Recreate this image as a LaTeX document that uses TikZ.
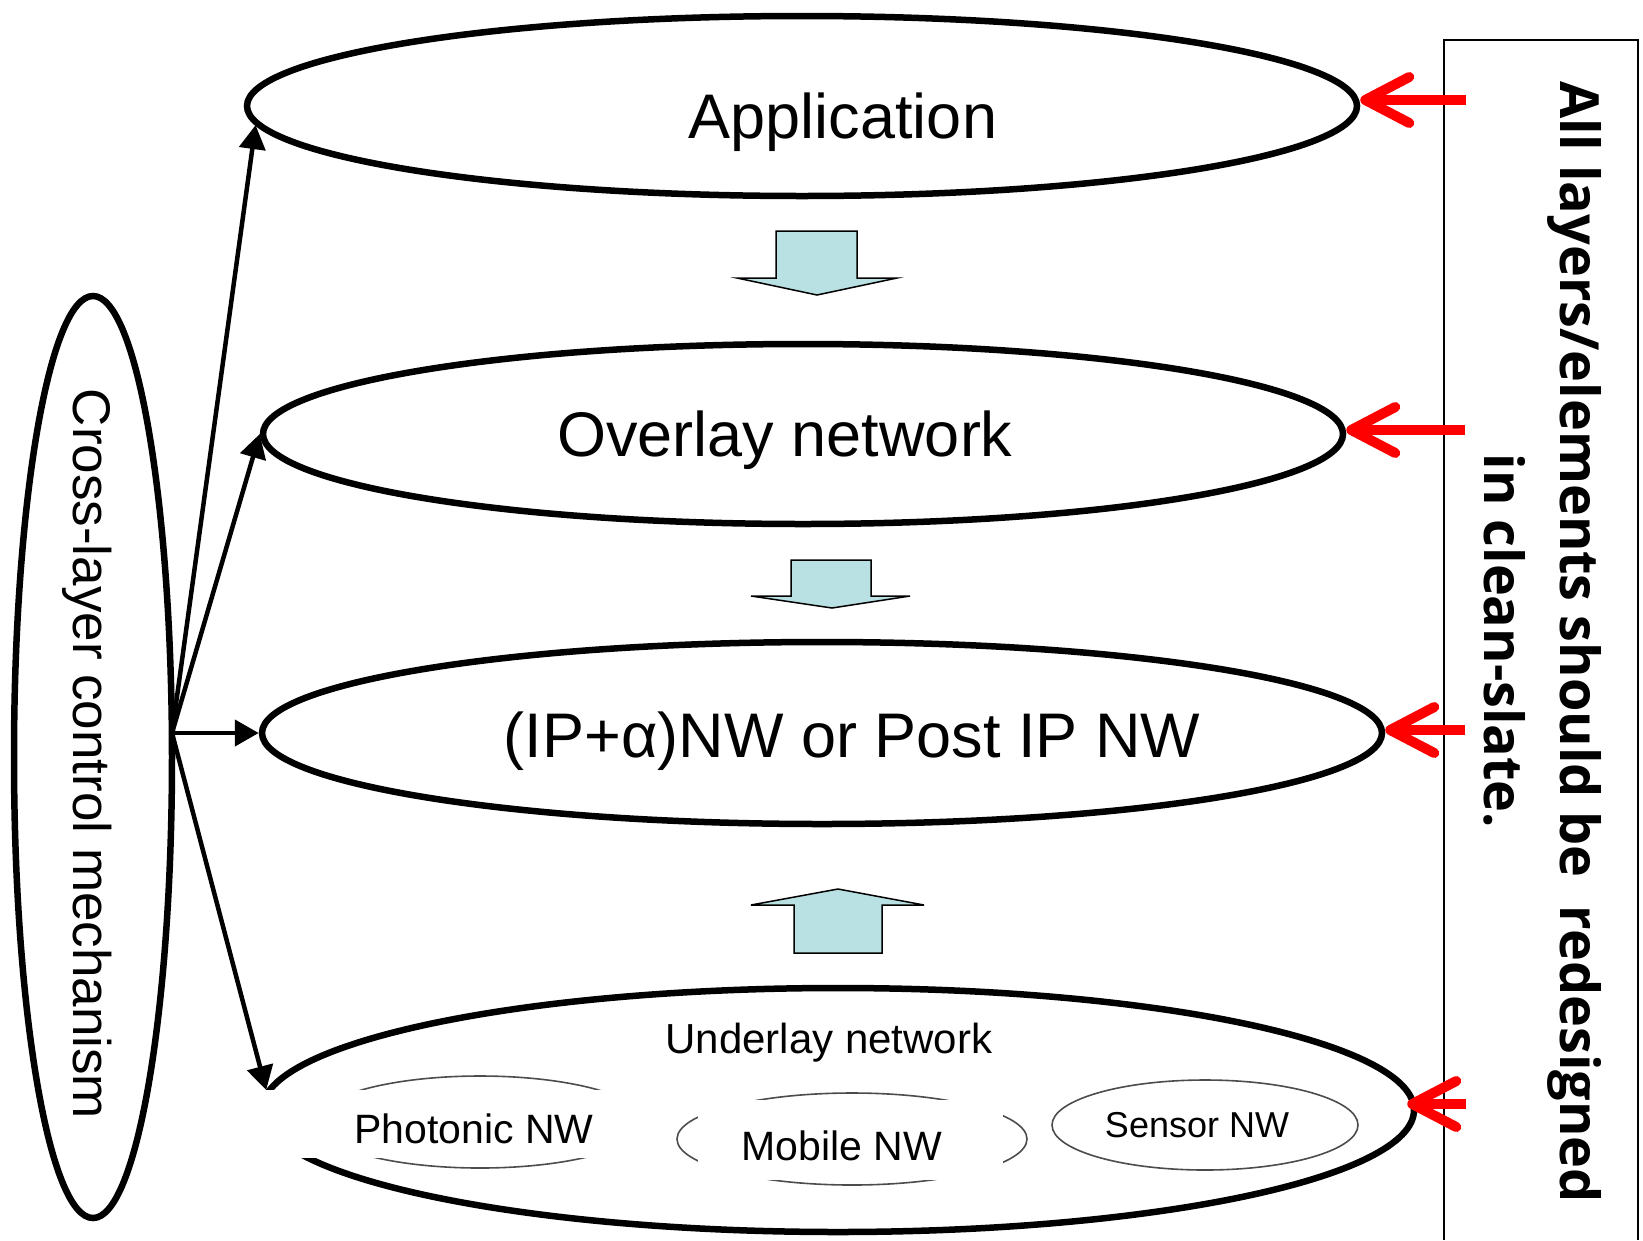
\documentclass[tikz,border=0pt]{standalone}
\usepackage{fontspec}
\setmainfont{Liberation Sans}
\newfontfamily\notefont{Open Sans}
\usetikzlibrary{positioning,shapes.geometric,arrows.meta}
\definecolor{flowblue}{RGB}{185,224,227}

\begin{document}
\begin{tikzpicture}[x=1pt, y=-1pt,
layernode/.style={ellipse, draw=black, line width=6.5pt, inner sep=0pt},
subnode/.style={ellipse, draw=black!70, line width=1.6pt, inner sep=0pt},
bigtext/.style={font=\fontsize{63}{70}\selectfont, anchor=base},
smalltext/.style={font=\fontsize{41}{46}\selectfont, anchor=base},
notetext/.style={font=\notefont\bfseries\fontsize{54}{60}\selectfont, rotate=-90, anchor=base},
ctrl/.style={line width=4.5pt, -{Stealth[length=24pt,width=26pt,inset=0pt]}},
redo/.style={draw=red, line width=10pt, -{Straight Barb[round,length=44pt,width=46pt]}},
flow/.style={fill=flowblue, draw=black, line width=1.5pt}]
    \useasboundingbox (0,0) rectangle (1643,1240);

    % layers
    \node[layernode, minimum width=1110pt, minimum height=180pt] (app) at (802,106) {};
    \node[layernode, minimum width=1080pt, minimum height=180pt] (ov) at (803,434) {};
    \node[layernode, minimum width=1120pt, minimum height=182pt] (ip) at (822,733) {};
    \node[layernode, minimum width=1152pt, minimum height=244pt] (under) at (838,1110) {};
    \node[layernode, minimum width=158pt, minimum height=922pt] (cross) at (93,757) {};

    \node[bigtext] (apptext) at (843,138) {Application};
    \node[bigtext] (ovtext) at (785,456) {Overlay network};
    \node[bigtext] (iptext) at (852,757) {(IP+α)NW or Post IP NW};
    \node[font=\fontsize{42}{48}\selectfont, anchor=base] (undertext) at (829,1053) {Underlay network};
    \node[rotate=-90, anchor=base, font=\fontsize{53}{60}\selectfont] (crosstext) at (73,754) {Cross-layer control mechanism};

    % underlay parts
    \node[subnode, minimum width=330pt, minimum height=92pt] (photonic) at (480,1122) {};
    \node[subnode, minimum width=350pt, minimum height=92pt] (mobile) at (852,1139) {};
    \node[subnode, minimum width=306pt, minimum height=90pt] (sensor) at (1205,1125) {};
    \fill[white] (256,1090) rectangle (650,1158);
    \fill[white] (698,1100) rectangle (1003,1180);
    \node[smalltext] (phtext) at (474,1143) {Photonic NW};
    \node[smalltext] (mbtext) at (842,1160) {Mobile NW};
    \node[font=\fontsize{36}{40}\selectfont, anchor=base] (sntext) at (1197,1137) {Sensor NW};

    % block arrows between layers
    \draw[flow] (776,231) -- (857,231) -- (857,278) -- (897,278) -- (817,295) -- (737,278) -- (776,278) -- cycle;
    \draw[flow] (791,560) -- (871,560) -- (871,596) -- (910,596) -- (832,608) -- (751,596) -- (791,596) -- cycle;
    \draw[flow] (794,953) -- (882,953) -- (882,905) -- (924,905) -- (838,889) -- (751,905) -- (794,905) -- cycle;

    % control arrows
    \coordinate (hub) at (172,733);
    \draw[ctrl] (hub) -- (app.182);
    \draw[ctrl] (hub) -- (ov.west);
    \draw[ctrl] (hub) -- (ip.west);
    \draw[ctrl] (hub) -- (under.178);

    % note box
    \draw[line width=2.5pt] (1444,1240) -- (1444,40) -- (1638,40) -- (1638,1240);
    \node[notetext] (noteone) at (1560,642) {All layers/elements should be\ \ redesigned};
    \node[notetext] (notetwo) at (1484,641) {in clean-slate.};

    \coordinate (apptail) at (1466,100);
    \coordinate (ovtail) at (1465,430);
    \coordinate (iptail) at (1465,730);
    \coordinate (undertail) at (1466,1104);
    \draw[redo] (apptail) -- (apptail -| app.east);
    \draw[redo] (ovtail) -- (ovtail -| ov.east);
    \draw[redo] (iptail) -- (iptail -| ip.east);
    \draw[redo] (undertail) -- ([xshift=-10pt]undertail -| under.east);
\end{tikzpicture}
\end{document}
